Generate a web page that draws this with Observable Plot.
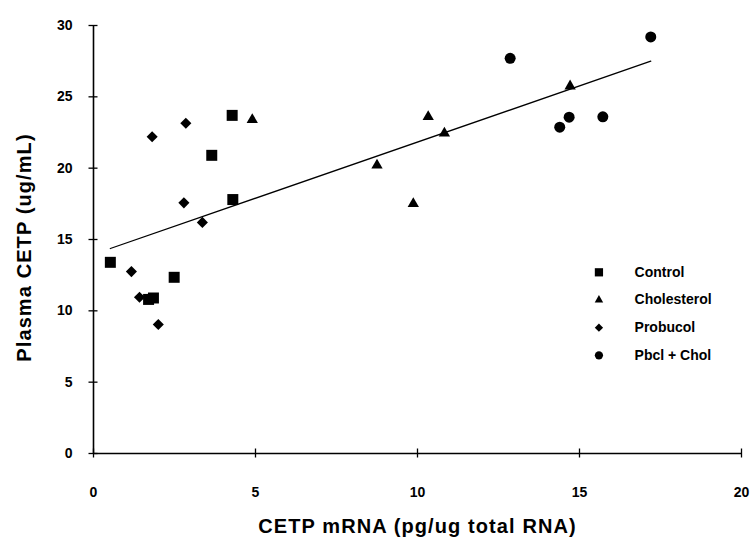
<!DOCTYPE html>
<html><head><meta charset="utf-8">
<script src="https://cdn.jsdelivr.net/npm/d3@7"></script>
<script src="https://cdn.jsdelivr.net/npm/@observablehq/plot@0.6"></script>
<style>body{margin:0;background:#fff} svg{display:block}</style>
</head><body><div id="chart"></div>
<script>
// ---- data ----
const groups = ["Control", "Cholesterol", "Probucol", "Pbcl + Chol"];
const controlX = [0.52, 1.70, 1.85, 2.49, 3.65, 4.28, 4.30];
const controlY = [13.4, 10.8, 10.9, 12.35, 20.9, 23.7, 17.8];
const cholX = [4.90, 8.75, 9.87, 10.33, 10.83, 14.71];
const cholY = [23.4, 20.2, 17.5, 23.6, 22.45, 25.75];
const probX = [1.81, 2.85, 2.79, 3.36, 1.17, 1.42, 2.00];
const probY = [22.2, 23.15, 17.57, 16.2, 12.75, 10.95, 9.04];
const pcX = [12.86, 14.39, 14.68, 15.72, 17.20];
const pcY = [27.7, 22.87, 23.57, 23.6, 29.2];
const xTicks = [0, 5, 10, 15, 20];
const yTicks = [0, 5, 10, 15, 20, 25, 30];
const xTitle = "CETP mRNA (pg/ug total RNA)";
const yTitle = "Plasma CETP (ug/mL)";

// ---- build table ----
const series = [
  {name: groups[0], xs: controlX, ys: controlY, symbol: "square", r: 6.2},
  {name: groups[1], xs: cholX, ys: cholY, symbol: "triangle", r: 4.2},
  {name: groups[2], xs: probX, ys: probY, symbol: "diamond2", r: 5.0},
  {name: groups[3], xs: pcX, ys: pcY, symbol: "circle", r: 5.5}
];
const points = series.flatMap(s => s.xs.map((x, i) => ({group: s.name, x, y: s.ys[i]})));

// layout
const W = 751, H = 542, mL = 93, mR = 10, mT = 25, mB = 89;
const frameW = W - mL - mR, frameH = H - mT - mB, half = 4.5;

// legend placement (in data units of the chart)
const legendSymbolX = 15.6, legendTextX = 16.7, legendTop = 12.7, legendStep = 1.94;

const font = "'Liberation Sans', Arial, Helvetica, sans-serif";

const marks = [
  Plot.linearRegressionY(points, {x: "x", y: "y", ci: 0, stroke: "black", strokeWidth: 1.3}),
  ...series.map(s => Plot.dot(points.filter(d => d.group === s.name),
    {x: "x", y: "y", symbol: s.symbol, r: s.r, fill: "black", stroke: "none"})),
  ...series.map((s, i) => Plot.dot([s.name],
    {x: () => legendSymbolX, y: () => legendTop - i * legendStep, symbol: s.symbol, r: s.r * 0.75, fill: "black", stroke: "none"})),
  Plot.text(groups, {x: () => legendTextX, y: (d, i) => legendTop - i * legendStep, text: d => d,
    textAnchor: "start", fontSize: 14, fontWeight: "bold", fill: "black"}),
  Plot.ruleX([0], {stroke: "black", strokeWidth: 1.6}),
  Plot.ruleY([0], {stroke: "black", strokeWidth: 1.6}),
  // tick marks crossing the axis lines
  Plot.tickX(xTicks, {x: d => d, insetTop: frameH - half, insetBottom: -half, stroke: "black", strokeWidth: 1.3}),
  Plot.tickY(yTicks, {y: d => d, insetLeft: -half, insetRight: frameW - half, stroke: "black", strokeWidth: 1.3}),
  Plot.axisX(xTicks, {tickSize: 0, tickPadding: 34, fill: "black",
    fontSize: 14, fontWeight: "bold", label: null, tickFormat: d => d}),
  Plot.axisY(yTicks, {tickSize: 0, tickPadding: 21, fill: "black",
    fontSize: 14, fontWeight: "bold", label: null, tickFormat: d => d}),
  Plot.text([xTitle], {frameAnchor: "bottom", lineAnchor: "middle", textAnchor: "middle", dy: 73,
    fontSize: 20, fontWeight: "bold", fill: "black"}),
  Plot.text([yTitle], {frameAnchor: "left", lineAnchor: "middle", textAnchor: "middle", dx: -69, dy: 8, rotate: -90,
    fontSize: 20, fontWeight: "bold", fill: "black"})
];

const chart = Plot.plot({
  width: W,
  height: H,
  marginLeft: mL,
  marginRight: mR,
  marginTop: mT,
  marginBottom: mB,
  x: {domain: [0, 20]},
  y: {domain: [0, 30]},
  style: {fontFamily: font, background: "#fff", color: "black"},
  marks
});
// slightly wider lettering for the two axis titles, as in the scanned original
chart.querySelectorAll("text").forEach(t => {
  if (t.textContent === xTitle || t.textContent === yTitle) t.setAttribute("letter-spacing", "1.1");
});
document.getElementById("chart").appendChild(chart);
</script>
</body></html>
